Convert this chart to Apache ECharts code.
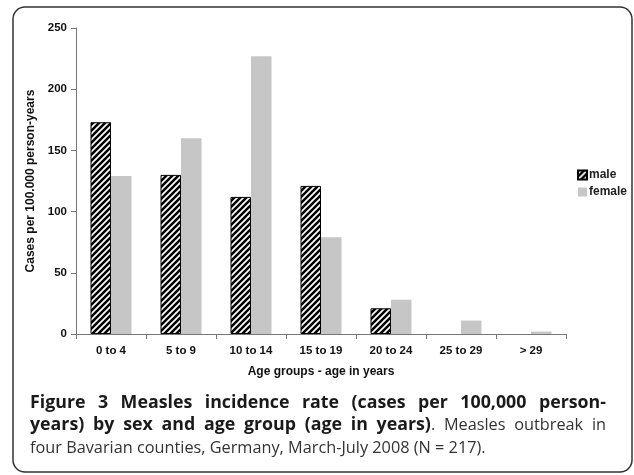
<!DOCTYPE html>
<html>
<head>
<meta charset="utf-8">
<script src="https://cdn.jsdelivr.net/npm/echarts@6/dist/echarts.min.js"></script>
<style>html,body{margin:0;padding:0;background:#fff}#c{width:634px;height:475px}</style>
</head>
<body>
<div id="c"></div>
<script>
var categories = ['0 to 4', '5 to 9', '10 to 14', '15 to 19', '20 to 24', '25 to 29', '> 29'];
var maleValues = [173, 130, 112, 121, 21, null, null];
var femaleValues = [129, 160, 227, 79, 28, 11, 2];
var yTicks = [0, 50, 100, 150, 200, 250];

function hatch() {
  var s = 6, c = document.createElement('canvas');
  c.width = s; c.height = s;
  var g = c.getContext('2d');
  g.fillStyle = '#fff'; g.fillRect(0, 0, s, s);
  g.strokeStyle = '#000'; g.lineWidth = 2.5; g.lineCap = 'square';
  g.beginPath();
  g.moveTo(0, s); g.lineTo(s, 0);
  g.moveTo(-s / 2, s / 2); g.lineTo(s / 2, -s / 2);
  g.moveTo(s / 2, s * 1.5); g.lineTo(s * 1.5, s / 2);
  g.stroke();
  return c;
}

var chart = echarts.init(document.getElementById('c'), null, {renderer: 'canvas'});
var axisFont = {fontFamily: 'Liberation Sans, Arial, sans-serif', fontWeight: 'bold', fontSize: 11.5, color: '#111'};
var nameFont = {fontFamily: 'Liberation Sans, Arial, sans-serif', fontWeight: 'bold', fontSize: 12, color: '#111'};

// caption with justification
var capFont = 'Open Sans, sans-serif';
var capBoldSize = 17.8, capNormSize = 16.3;
var capLeft = 30, capRight = 606;
var capLines = [
  {y: 403, justify: true, segs: [['Figure 3 Measles incidence rate (cases per 100,000 person-', true]]},
  {y: 425, justify: true, segs: [['years) by sex and age group (age in years)', true], ['. Measles outbreak in', false]]},
  {y: 448, justify: false, segs: [['four Bavarian counties, Germany, March-July 2008 (N = 217).', false]]}
];
var mctx = document.createElement('canvas').getContext('2d');
function fontStr(b) { return (b ? 'bold ' + capBoldSize : capNormSize) + 'px ' + capFont; }
var graphics = [{
  type: 'rect', shape: {x: 13, y: 7, width: 619, height: 465, r: 12},
  style: {fill: 'none', stroke: '#333', lineWidth: 1.5}, silent: true
}];
capLines.forEach(function (ln) {
  var words = [];
  ln.segs.forEach(function (sg, si) {
    var parts = sg[0].split(' ');
    parts.forEach(function (p, pi) {
      if (p === '') return;
      var attach = (pi === 0 && si > 0 && sg[0][0] !== ' ');
      if (attach && words.length) {
        words[words.length - 1].pieces.push({t: p, b: sg[1]});
      } else {
        words.push({pieces: [{t: p, b: sg[1]}], b: sg[1]});
      }
    });
  });
  var total = 0;
  words.forEach(function (w) {
    w.w = 0;
    w.pieces.forEach(function (pc) { mctx.font = fontStr(pc.b); pc.w = mctx.measureText(pc.t).width; w.w += pc.w; });
    total += w.w;
  });
  mctx.font = fontStr(false);
  var gap = mctx.measureText(' ').width;
  if (ln.justify && words.length > 1) gap = (capRight - capLeft - total) / (words.length - 1);
  var x = capLeft;
  words.forEach(function (w) {
    w.pieces.forEach(function (pc) {
      graphics.push({type: 'text', x: x, y: ln.y, silent: true,
        style: {text: pc.t, font: fontStr(pc.b), fill: pc.b ? '#1a1a1a' : '#333', textVerticalAlign: 'middle', textAlign: 'left'}});
      x += pc.w;
    });
    x += gap;
  });
});

chart.setOption({
  animation: false,
  backgroundColor: '#fff',
  grid: {left: 76, right: 68, top: 28, bottom: 141, containLabel: false},
  legend: {
    orient: 'vertical', left: 572, top: 164, itemWidth: 9, itemHeight: 9, itemGap: 5,
    icon: 'rect', selectedMode: false,
    textStyle: {fontFamily: 'Liberation Sans, Arial, sans-serif', fontWeight: 'bold', fontSize: 12, color: '#222', padding: [0, 0, 0, -3]},
    data: ['male', 'female']
  },
  xAxis: {
    type: 'category', data: categories,
    name: 'Age groups - age in years', nameLocation: 'middle', nameGap: 32,
    nameTextStyle: nameFont,
    axisLine: {lineStyle: {color: '#777', width: 1}},
    axisTick: {show: true, length: 5, alignWithLabel: false, lineStyle: {color: '#777'}},
    axisLabel: Object.assign({margin: 11}, axisFont),
    splitLine: {show: false}
  },
  yAxis: {
    type: 'value', min: yTicks[0], max: yTicks[yTicks.length - 1], interval: 50,
    name: 'Cases per 100.000 person-years', nameLocation: 'middle', nameGap: 35, nameRotate: 90,
    nameTextStyle: nameFont,
    axisLine: {show: true, lineStyle: {color: '#777', width: 1}},
    axisTick: {show: true, length: 5, lineStyle: {color: '#777'}},
    axisLabel: Object.assign({margin: 9}, axisFont),
    splitLine: {show: false}
  },
  series: [
    {name: 'male', type: 'bar', data: maleValues, barWidth: 20.5, barGap: '0%',
      itemStyle: {color: {image: hatch(), repeat: 'repeat'}, borderColor: '#000', borderWidth: 1}},
    {name: 'female', type: 'bar', data: femaleValues, barWidth: 20.5,
      itemStyle: {color: '#c6c6c6'}}
  ],
  graphic: graphics
});
</script>
</body>
</html>
